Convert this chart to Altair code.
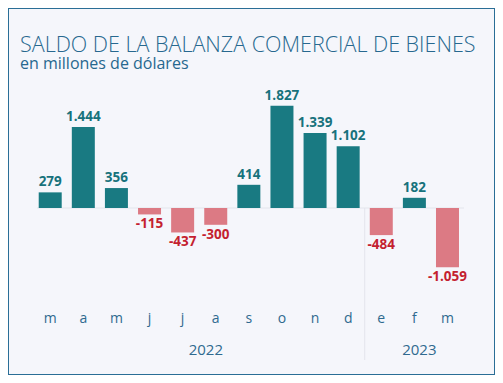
import altair as alt
import pandas as pd

months = ["m", "a", "m", "j", "j", "a", "s", "o", "n", "d", "e", "f", "m"]
values = [279, 1444, 356, -115, -437, -300, 414, 1827, 1339, 1102, -484, 182, -1059]
years = ["2022", "2023"]
year_pos = [4.7, 11.15]

title = "SALDO DE LA BALANZA COMERCIAL DE BIENES"
subtitle = "en millones de dólares"

TEAL = "#197a82"
PINK = "#dc7a84"
TEAL_TXT = "#17727c"
RED_TXT = "#c41f30"
AXIS_TXT = "#2f6a8f"
BG = "#f5f6fb"

df = pd.DataFrame({
    "i": list(range(len(months))),
    "mes": months,
    "valor": values,
})
df["signo"] = ["pos" if v >= 0 else "neg" for v in values]
df["label"] = [f"{v:,}".replace(",", ".") for v in values]

W, H = 487, 367
xs = alt.Scale(domain=[-1.124, 13.284], nice=False, zero=False)
ys = alt.Scale(domain=[-2982, 3571], nice=False, zero=False)
X = alt.X("i:Q", scale=xs, axis=None)
Y = alt.Y("valor:Q", scale=ys, axis=None)
color = alt.Color("signo:N", scale=alt.Scale(domain=["pos", "neg"], range=[TEAL, PINK]), legend=None)

base = alt.Chart(df)

zero_df = pd.DataFrame({"a": [-0.4], "b": [12.5], "z": [0]})
zero = alt.Chart(zero_df).mark_rule(color="#e3e5ec", strokeWidth=1).encode(
    x=alt.X("a:Q", scale=xs, axis=None), x2="b:Q", y=alt.Y("z:Q", scale=ys, axis=None)
)

sep_df = pd.DataFrame({"s": [9.5]})
sep = alt.Chart(sep_df).mark_rule(color="#e3e5ec", strokeWidth=1).encode(
    x=alt.X("s:Q", scale=xs, axis=None), y=alt.value(200), y2=alt.value(352)
)

bars = base.mark_bar(size=23).encode(x=X, y=Y, y2=alt.datum(0), color=color)

pos_lbl = base.transform_filter("datum.valor >= 0").mark_text(
    baseline="bottom", dy=-3, fontSize=13.5, fontWeight="bold", font="Open Sans", color=TEAL_TXT
).encode(x=X, y=Y, text="label:N")

neg_lbl = base.transform_filter("datum.valor < 0").mark_text(
    baseline="top", dy=3, fontSize=13.5, fontWeight="bold", font="Open Sans", color=RED_TXT
).encode(x=X, y=Y, text="label:N")

mes_lbl = base.mark_text(baseline="middle", fontSize=14, font="Open Sans", color=AXIS_TXT).encode(
    x=X, y=alt.value(311), text="mes:N"
)

yr_df = pd.DataFrame({"p": year_pos, "y": years})
yr_lbl = alt.Chart(yr_df).mark_text(baseline="middle", fontSize=15, font="Open Sans", color=AXIS_TXT).encode(
    x=alt.X("p:Q", scale=xs, axis=None), y=alt.value(342), text="y:N"
)

t_df = pd.DataFrame({"t": [title], "s": [subtitle]})
t1 = alt.Chart(t_df).mark_text(align="left", baseline="alphabetic", fontSize=21.5, font="Open Sans",
                               fontWeight=300, color="#27688f").encode(
    x=alt.value(12), y=alt.value(44), text="t:N")
t2 = alt.Chart(t_df).mark_text(align="left", baseline="alphabetic", fontSize=16, font="Open Sans",
                               color="#27688f").encode(
    x=alt.value(12), y=alt.value(61), text="s:N")

chart = alt.layer(zero, sep, bars, pos_lbl, neg_lbl, mes_lbl, yr_lbl, t1, t2).properties(
    width=W, height=H, background=BG, padding=0,
    autosize=alt.AutoSizeParams(type="fit", contains="padding"),
).configure_view(stroke="#2a6e96", strokeWidth=2)

chart.save("out.html", embed_options={"renderer": "svg", "actions": False})
